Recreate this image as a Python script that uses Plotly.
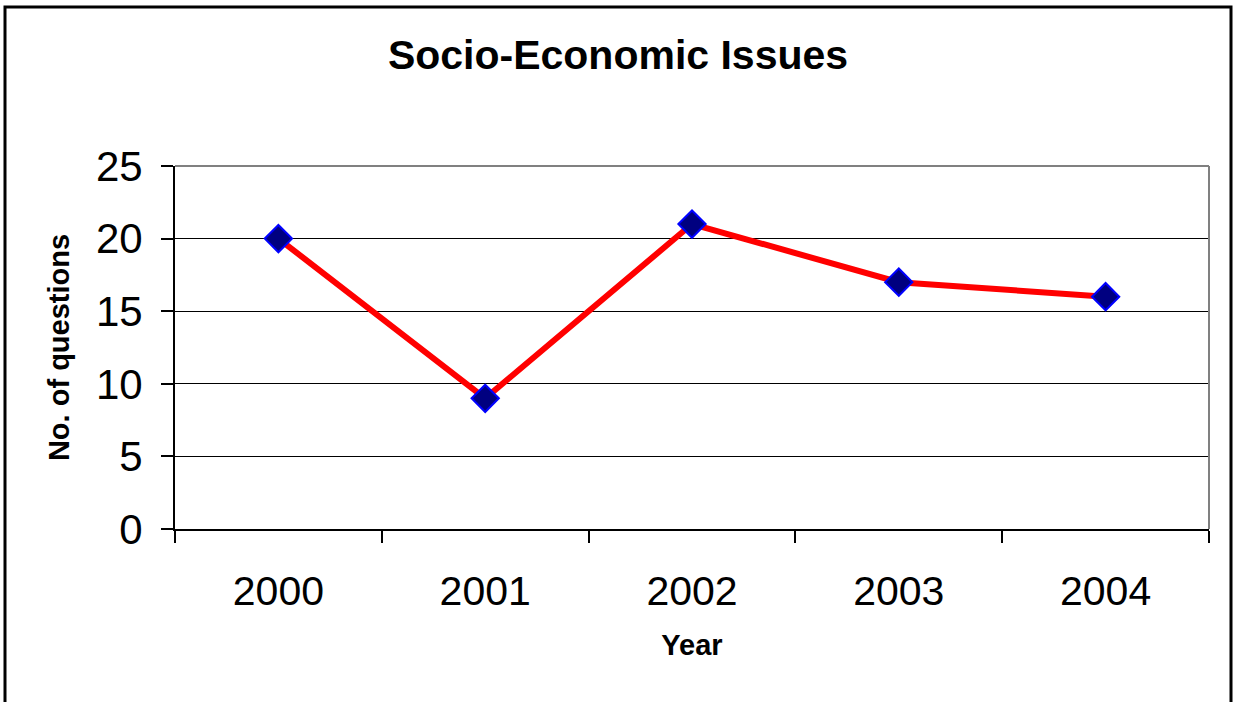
import plotly.graph_objects as go

years = ["2000", "2001", "2002", "2003", "2004"]
questions = [20, 9, 21, 17, 16]
y_ticks = [0, 5, 10, 15, 20, 25]

L, R, T, B = 175, 27, 166, 173
W, H = 1236, 702
pw, ph = W - L - R, H - T - B

fig = go.Figure()
fig.add_trace(go.Scatter(
    x=years, y=questions, mode="lines+markers",
    line=dict(color="#FF0000", width=6),
    marker=dict(symbol="diamond", size=21, color="#000080",
                line=dict(color="#0000FF", width=2)),
    showlegend=False, cliponaxis=False,
))

font = "Liberation Sans, Arial, sans-serif"
fig.update_layout(
    width=W, height=H,
    margin=dict(l=L, r=R, t=T, b=B),
    paper_bgcolor="white", plot_bgcolor="white",
    font=dict(family=font, color="black"),
    title=dict(text="<b>Socio-Economic Issues</b>", x=0.5, xref="container",
               y=1 - 55 / H, yanchor="middle", xanchor="center",
               font=dict(size=41, family=font, color="black")),
    xaxis=dict(
        type="category", range=[-0.5, len(years) - 0.5], autorange=False,
        tickson="boundaries", ticks="outside", ticklen=12,
        tickwidth=2, tickcolor="black", showline=True, linecolor="black",
        linewidth=2, showgrid=False, tickfont=dict(size=41),
        ticklabelstandoff=25,
        title=dict(text="<b>Year</b>", font=dict(size=29), standoff=21),
    ),
    yaxis=dict(
        range=[0, 25], tickvals=y_ticks, ticks="outside", ticklen=12,
        tickwidth=2, tickcolor="black", showline=True, linecolor="black",
        linewidth=2, showgrid=True, gridcolor="black", gridwidth=1,
        zeroline=False, tickfont=dict(size=42), ticklabelstandoff=10,
        title=dict(text="<b>No. of questions</b>", font=dict(size=29), standoff=18),
    ),
    shapes=[
        dict(type="line", xref="paper", yref="paper", x0=0, x1=1, y0=1, y1=1,
             line=dict(color="#808080", width=2)),
        dict(type="line", xref="paper", yref="paper", x0=1, x1=1, y0=0, y1=1,
             line=dict(color="#808080", width=2)),
        dict(type="rect", xref="paper", yref="paper",
             x0=(5 - L) / pw, x1=(1231 - L) / pw,
             y0=(H - T - 720) / ph, y1=(H - B - 7) / ph,
             line=dict(color="black", width=3), fillcolor="rgba(0,0,0,0)"),
    ],
)

fig.write_html("out.html", config={"displayModeBar": False},
               post_script="document.body.style.margin='0';document.body.style.overflow='hidden';")
